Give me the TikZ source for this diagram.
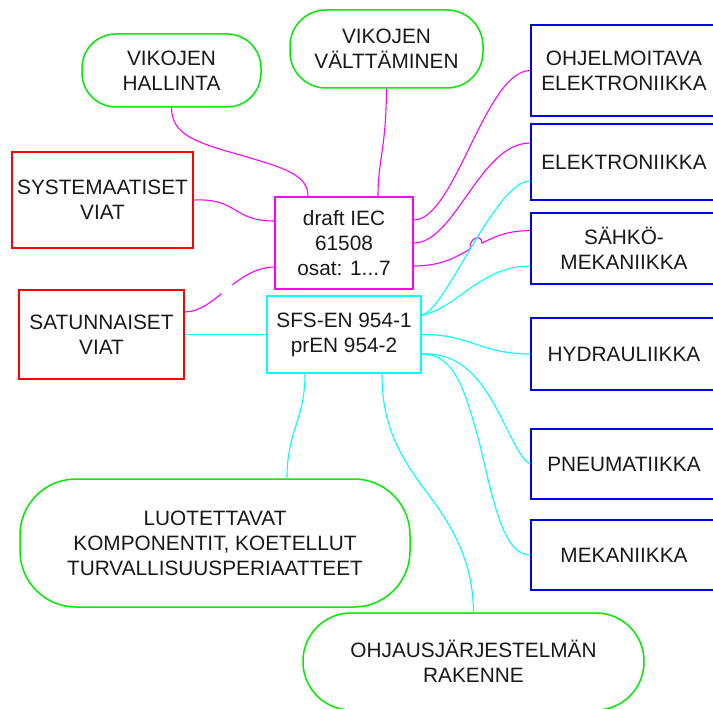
\documentclass[tikz,border=0pt]{standalone}
\usepackage{fontspec}
\setmainfont{Liberation Sans}
\usetikzlibrary{calc}

\definecolor{boxgreen}{RGB}{0,235,0}
\definecolor{boxred}{RGB}{255,0,0}
\definecolor{boxblue}{RGB}{0,0,235}
\definecolor{linemag}{RGB}{255,0,255}
\definecolor{linecyan}{RGB}{0,255,255}

\tikzset{
  base/.style={draw, line width=1.5pt, inner sep=0pt, align=center,
    font=\fontsize{20.8}{25}\selectfont, text=black!90},
  goal/.style={base, draw=boxgreen, rounded corners=#1},
  fault/.style={base, draw=boxred},
  tech/.style={base, draw=boxblue, text width=170pt},
  iecbox/.style={base, draw=linemag},
  sfsbox/.style={base, draw=linecyan},
  magline/.style={draw=linemag, line width=1.1pt},
  cyanline/.style={draw=linecyan, line width=1.1pt}
}

\begin{document}
\begin{tikzpicture}[x=1pt, y=-1pt]
\useasboundingbox (0,0) rectangle (713,709);
\clip (0,0) rectangle (713,709);

% goals (green)
\node[goal=34pt, minimum width=179pt, minimum height=73pt] (hall) at (171.5,70.5) {VIKOJEN\\HALLINTA};
\node[goal=36pt, minimum width=193pt, minimum height=78pt] (valt) at (386.5,49) {VIKOJEN\\VÄLTTÄMINEN};
\node[goal=56pt, minimum width=390pt, minimum height=128pt] (luot) at (215,543) {LUOTETTAVAT\\KOMPONENTIT, KOETELLUT\\TURVALLISUUSPERIAATTEET};
\node[goal=48pt, minimum width=341pt, minimum height=97pt] (ohjaus) at (473.5,661.5) {OHJAUSJÄRJESTELMÄN\\RAKENNE};

% fault types (red)
\node[fault, minimum width=181pt, minimum height=96pt] (sys) at (102.5,200) {SYSTEMAATISET\\VIAT};
\node[fault, minimum width=165pt, minimum height=89pt] (sat) at (101.5,334.5) {SATUNNAISET\\VIAT};

% standards
\node[iecbox, minimum width=138pt, minimum height=92pt] (iec) at (344,243) {draft IEC\\61508\\osat: 1...7};
\node[sfsbox, minimum width=154pt, minimum height=77pt] (sfs) at (344,334.5) {SFS-EN 954-1\\prEN 954-2};

% technologies (blue)
\node[tech, minimum width=186pt, minimum height=91pt] (ohj) at (624,70.5) {OHJELMOITAVA\\ELEKTRONIIKKA};
\node[tech, minimum width=186pt, minimum height=76pt] (elek) at (624,162) {ELEKTRONIIKKA};
\node[tech, minimum width=186pt, minimum height=71pt] (sahko) at (624,248.5) {SÄHKÖ-\\MEKANIIKKA};
\node[tech, minimum width=186pt, minimum height=72pt] (hydr) at (624,354) {HYDRAULIIKKA};
\node[tech, minimum width=186pt, minimum height=70pt] (pneu) at (624,464) {PNEUMATIIKKA};
\node[tech, minimum width=186pt, minimum height=70pt] (meka) at (624,555) {MEKANIIKKA};

% IEC 61508 connectors
\draw[magline] (hall.south) .. controls (172,135) and (195,142) .. (240,155)
  .. controls (285,168) and (308,175) .. ($(iec.north)+(-36,0)$);
\draw[magline] (valt.south) .. controls (386,150) and (378,160) .. ($(iec.north)+(34,0)$);
\draw[magline] (sys.east) .. controls (238,198) and (232,221) .. ($(iec.west)+(0,-22)$);
\draw[magline, dash pattern=on 42pt off 14pt on 300pt]
  ($(sat.east)+(0,-22.5)$) .. controls (215,312) and (235,268) .. ($(iec.west)+(0,24)$);
\draw[magline] ($(iec.east)+(0,-23)$) .. controls (455,220) and (485,71) .. (ohj.west);
\draw[magline] (iec.east) .. controls (455,243) and (480,143) .. ($(elek.west)+(0,-19)$);
\draw[magline] ($(iec.east)+(0,23)$) .. controls (440,266) and (455,258) .. (470,249)
  .. controls (469,237) and (482,234) .. (482,243)
  .. controls (495,237) and (505,231) .. ($(sahko.west)+(0,-18)$);

% EN 954 connectors
\draw[cyanline] ($(sfs.east)+(0,-19.5)$) .. controls (445,312) and (495,181) .. ($(elek.west)+(0,19)$);
\draw[cyanline] ($(sfs.east)+(0,-19.5)$) .. controls (455,310) and (480,266) .. ($(sahko.west)+(0,17.5)$);
\draw[cyanline] (sfs.east) .. controls (470,334) and (480,354) .. (hydr.west);
\draw[cyanline] ($(sfs.east)+(0,19.5)$) .. controls (465,352) and (485,385) .. (505,425)
  .. controls (515,445) and (522,460) .. (pneu.west);
\draw[cyanline] ($(sfs.east)+(0,19.5)$) .. controls (455,354) and (465,390) .. (480,445)
  .. controls (495,510) and (505,555) .. (meka.west);
\draw[cyanline] (sat.east) -- (sfs.west);
\draw[cyanline] ($(sfs.south)+(-39,0)$) .. controls (305,420) and (287,430) .. ($(luot.north)+(72,0)$);
\draw[cyanline] ($(sfs.south)+(38,0)$) .. controls (382,420) and (395,450) .. (425,490)
  .. controls (460,535) and (473,570) .. (ohjaus.north);
\end{tikzpicture}
\end{document}
